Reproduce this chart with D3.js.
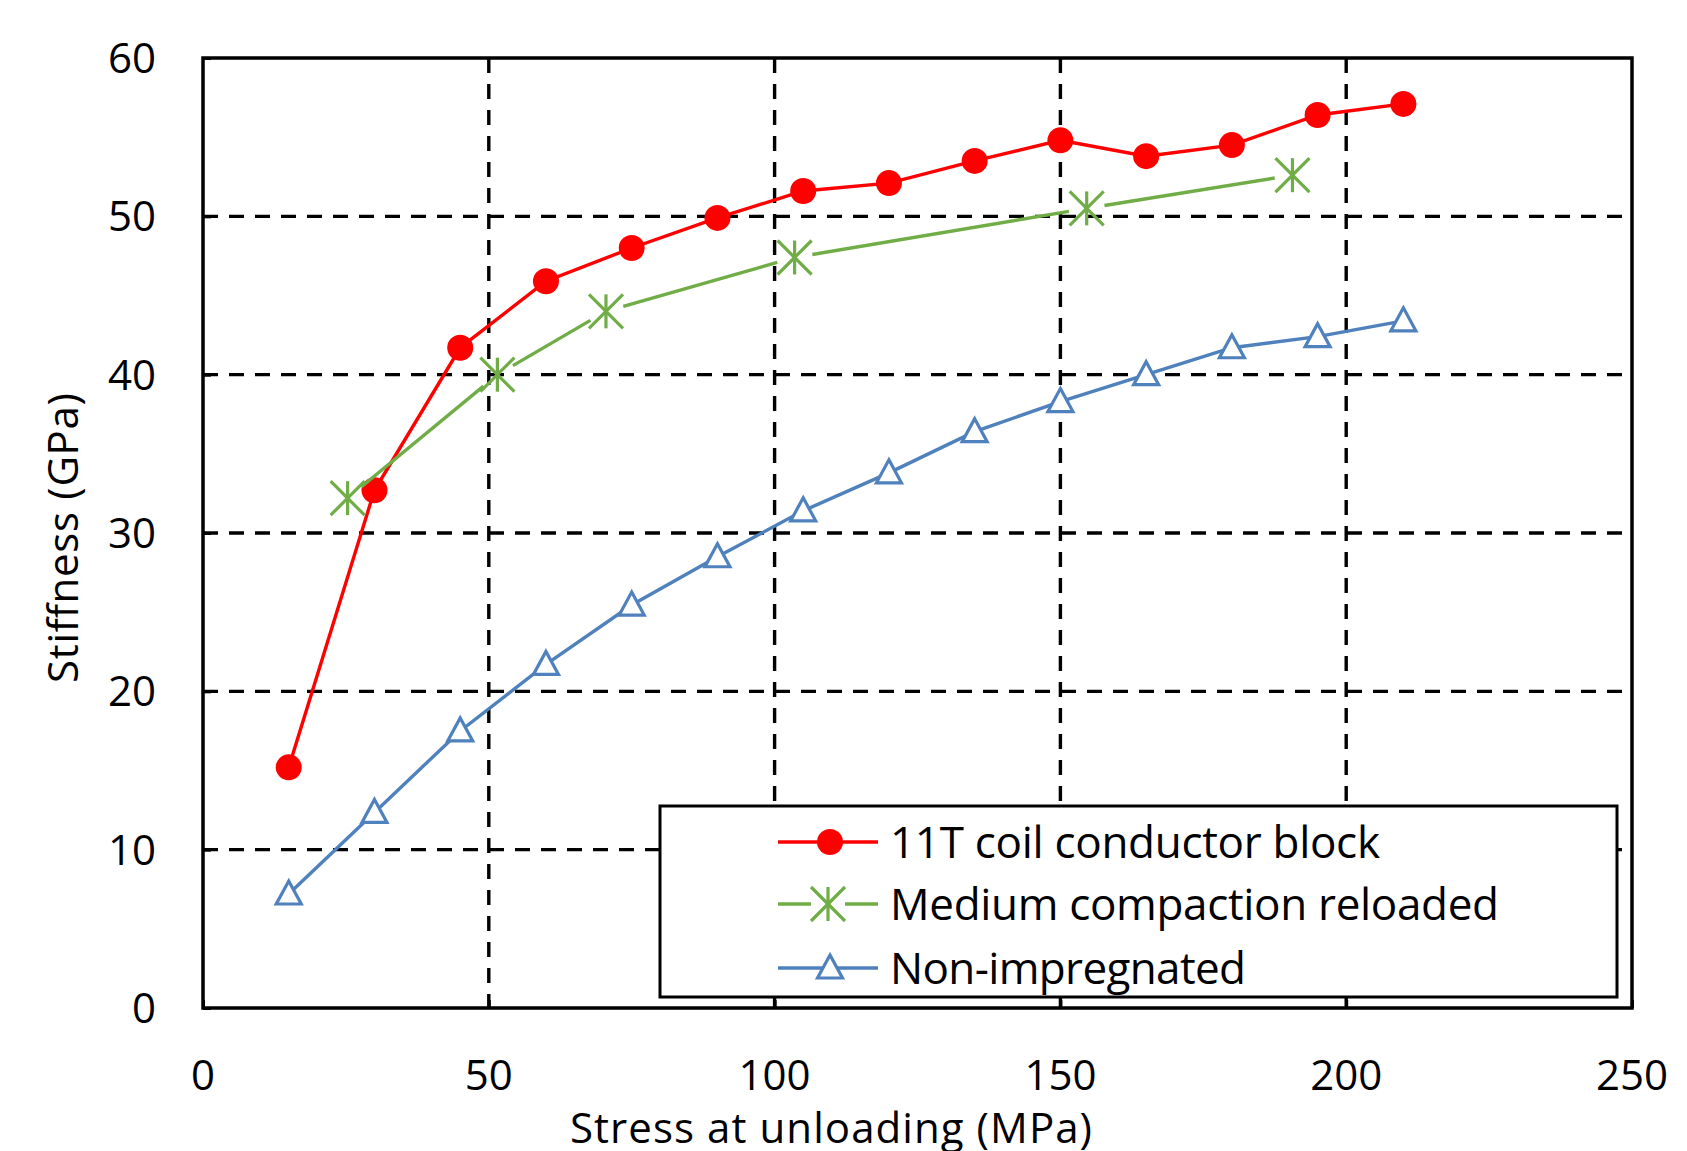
<!DOCTYPE html>
<html>
<head>
<meta charset="utf-8">
<script src="https://cdn.jsdelivr.net/npm/d3@7"></script>
<style>
  html, body { margin: 0; padding: 0; background: #fff; }
  svg { display: block; }
  text { font-family: "Open Sans", "Noto Sans", sans-serif; fill: #000; }
</style>
</head>
<body>
<svg id="chart" width="1687" height="1151"></svg>
<script>
// ---------- data ----------
const redX   = [15, 30, 45, 60, 75, 90, 105, 120, 135, 150, 165, 180, 195, 210];
const redY   = [15.2, 32.7, 41.7, 45.9, 48.0, 49.9, 51.6, 52.1, 53.5, 54.8, 53.8, 54.5, 56.4, 57.1];
const greenX = [25.3, 51.5, 70.5, 103.5, 154.6, 190.6];
const greenY = [32.2, 40.0, 44.0, 47.4, 50.5, 52.6];
const blueX  = [15, 30, 45, 60, 75, 90, 105, 120, 135, 150, 165, 180, 195, 210];
const blueY  = [7.2, 12.35, 17.5, 21.7, 25.45, 28.5, 31.4, 33.8, 36.4, 38.3, 40.0, 41.7, 42.4, 43.4];
const xTicks = [0, 50, 100, 150, 200, 250];
const yTicks = [0, 10, 20, 30, 40, 50, 60];
const seriesNames = ["11T coil conductor block", "Medium compaction reloaded", "Non-impregnated"];
const xTitle = "Stress at unloading (MPa)";
const yTitle = "Stiffness (GPa)";

// ---------- layout ----------
const L = 203, R = 1632, T = 58, B = 1008;
const RED = "#FF0000", GREEN = "#70AD47", BLUE = "#4F81BD";

const svg = d3.select("#chart");
const x = d3.scaleLinear().domain([0, 250]).range([L, R]);
const y = d3.scaleLinear().domain([0, 60]).range([B, T]);

// gridlines
const grid = svg.append("g");
grid.selectAll("line.vx").data(xTicks.filter(d => d > 0 && d < 250)).join("line")
  .attr("x1", d => x(d)).attr("x2", d => x(d)).attr("y1", T).attr("y2", B)
  .attr("stroke", "#000").attr("stroke-width", 3.4).attr("stroke-dasharray", "15,11");
grid.selectAll("line.hy").data(yTicks.filter(d => d > 0 && d < 60)).join("line")
  .attr("x1", L).attr("x2", R).attr("y1", d => y(d)).attr("y2", d => y(d))
  .attr("stroke", "#000").attr("stroke-width", 3.4).attr("stroke-dasharray", "15,11");

// axes (inside ticks)
const xAxis = d3.axisBottom(x).tickValues(xTicks).tickSizeInner(-8).tickSizeOuter(0).tickPadding(0).tickFormat("");
const yAxis = d3.axisLeft(y).tickValues(yTicks).tickSizeInner(-8).tickSizeOuter(0).tickPadding(0).tickFormat("");
const gx = svg.append("g").attr("transform", `translate(0,${B})`).call(xAxis);
const gy = svg.append("g").attr("transform", `translate(${L},0)`).call(yAxis);
[gx, gy].forEach(g => {
  g.selectAll("line").attr("stroke", "#000").attr("stroke-width", 3);
  g.select(".domain").remove();
});

// plot frame
svg.append("rect").attr("x", L).attr("y", T).attr("width", R - L).attr("height", B - T)
  .attr("fill", "none").attr("stroke", "#000").attr("stroke-width", 3.5);

// tick labels
svg.append("g").selectAll("text").data(yTicks).join("text")
  .attr("x", L - 47).attr("y", d => y(d)).attr("dy", "0.36em")
  .attr("text-anchor", "end").attr("font-size", 42).text(d => d);
svg.append("g").selectAll("text").data(xTicks).join("text")
  .attr("x", d => x(d)).attr("y", 1090)
  .attr("text-anchor", "middle").attr("font-size", 42).text(d => d);

// axis titles
svg.append("text").attr("x", 831).attr("y", 1143).attr("text-anchor", "middle")
  .attr("font-size", 42).attr("textLength", 522).attr("lengthAdjust", "spacing").text(xTitle);
svg.append("text").attr("transform", "translate(78,538) rotate(-90)").attr("text-anchor", "middle")
  .attr("font-size", 42).attr("textLength", 290).attr("lengthAdjust", "spacing").text(yTitle);

// ---------- series ----------
const redPts = redX.map((v, i) => [x(v), y(redY[i])]);
const greenPts = greenX.map((v, i) => [x(v), y(greenY[i])]);
const bluePts = blueX.map((v, i) => [x(v), y(blueY[i])]);
const line = d3.line();

// marker symbols
function asterisk(g, s) {
  g.append("line").attr("x1", 0).attr("x2", 0).attr("y1", -s).attr("y2", s);
  g.append("line").attr("x1", -s).attr("x2", s).attr("y1", -s).attr("y2", s);
  g.append("line").attr("x1", -s).attr("x2", s).attr("y1", s).attr("y2", -s);
}
const triPath = "M0,-13L12.5,10L-12.5,10Z";

// red
svg.append("path").attr("d", line(redPts)).attr("fill", "none").attr("stroke", RED).attr("stroke-width", 3.4);
svg.append("g").selectAll("circle").data(redPts).join("circle")
  .attr("cx", d => d[0]).attr("cy", d => d[1]).attr("r", 13).attr("fill", RED);

// green: line segments with gaps around markers
const gap = 18;
const segs = d3.pairs(greenPts).map(([a, b]) => {
  const dx = b[0] - a[0], dy = b[1] - a[1], len = Math.hypot(dx, dy);
  const ux = dx / len, uy = dy / len;
  return [[a[0] + ux * gap, a[1] + uy * gap], [b[0] - ux * gap, b[1] - uy * gap]];
});
svg.append("g").selectAll("path").data(segs).join("path")
  .attr("d", d => line(d)).attr("fill", "none").attr("stroke", GREEN).attr("stroke-width", 3.4);
svg.append("g").selectAll("g").data(greenPts).join("g")
  .attr("transform", d => `translate(${d[0]},${d[1]})`)
  .attr("stroke", GREEN).attr("stroke-width", 3.2)
  .each(function () { asterisk(d3.select(this), 17); });

// blue
svg.append("path").attr("d", line(bluePts)).attr("fill", "none").attr("stroke", BLUE).attr("stroke-width", 3.4);
svg.append("g").selectAll("path").data(bluePts).join("path")
  .attr("d", triPath).attr("transform", d => `translate(${d[0]},${d[1]})`)
  .attr("fill", "#fff").attr("stroke", BLUE).attr("stroke-width", 3.2);

// ---------- legend ----------
const lg = svg.append("g");
lg.append("rect").attr("x", 660).attr("y", 806).attr("width", 957).attr("height", 191)
  .attr("fill", "#fff").attr("stroke", "#000").attr("stroke-width", 3);
const rows = [842, 904, 968];
const textLens = [490, 609, 356];
// red entry
lg.append("line").attr("x1", 778).attr("x2", 878).attr("y1", rows[0]).attr("y2", rows[0])
  .attr("stroke", RED).attr("stroke-width", 3.4);
lg.append("circle").attr("cx", 830).attr("cy", rows[0]).attr("r", 13).attr("fill", RED);
// green entry
lg.append("line").attr("x1", 778).attr("x2", 811).attr("y1", rows[1]).attr("y2", rows[1])
  .attr("stroke", GREEN).attr("stroke-width", 3.4);
lg.append("line").attr("x1", 845).attr("x2", 878).attr("y1", rows[1]).attr("y2", rows[1])
  .attr("stroke", GREEN).attr("stroke-width", 3.4);
asterisk(lg.append("g").attr("transform", `translate(828,${rows[1]})`)
  .attr("stroke", GREEN).attr("stroke-width", 3.2), 17);
// blue entry
lg.append("line").attr("x1", 778).attr("x2", 878).attr("y1", rows[2]).attr("y2", rows[2])
  .attr("stroke", BLUE).attr("stroke-width", 3.4);
lg.append("path").attr("d", triPath).attr("transform", `translate(830,${rows[2]})`)
  .attr("fill", "#fff").attr("stroke", BLUE).attr("stroke-width", 3.2);
// texts
lg.selectAll("text").data(seriesNames).join("text")
  .attr("x", 890).attr("y", (d, i) => rows[i] + 16)
  .attr("font-size", 44).attr("textLength", (d, i) => textLens[i]).attr("lengthAdjust", "spacing")
  .text(d => d);
</script>
</body>
</html>
